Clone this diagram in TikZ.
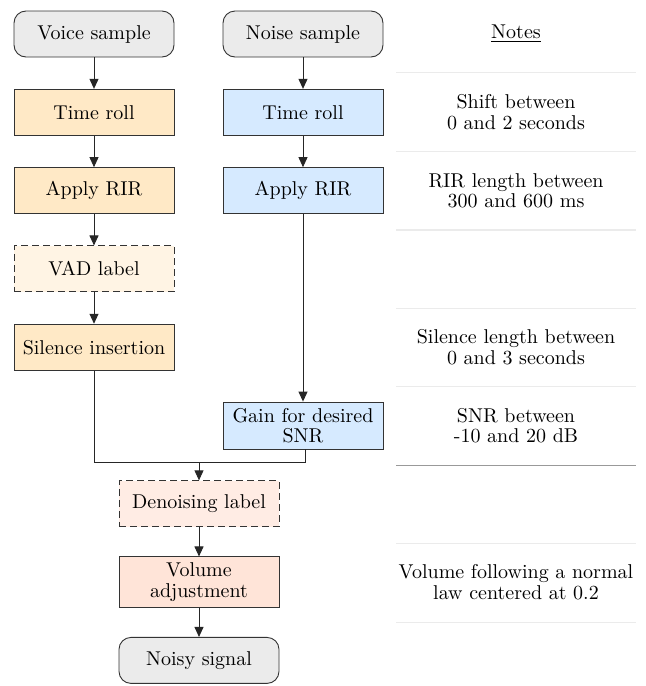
\documentclass[tikz,border=0pt]{standalone}
\usetikzlibrary{arrows.meta}
\definecolor{voicefill}{RGB}{255,233,198}
\definecolor{vadfill}{RGB}{255,244,228}
\definecolor{noisefill}{RGB}{214,234,255}
\definecolor{denfill}{RGB}{255,236,228}
\definecolor{volfill}{RGB}{255,228,216}
\definecolor{termfill}{RGB}{235,235,235}
\tikzset{
  base/.style={draw=black!80, line width=0.45pt, minimum width=80pt, minimum height=23pt,
    inner sep=3pt, align=center, font={\fontsize{10}{10.2}\selectfont}},
  term/.style={base, rounded corners=6pt, fill=termfill},
  vbox/.style={base, fill=voicefill},
  nbox/.style={base, fill=noisefill},
  vadbox/.style={base, fill=vadfill, dashed, dash pattern=on 3.5pt off 2pt},
  denbox/.style={base, fill=denfill, dashed, dash pattern=on 3.5pt off 2pt},
  volbox/.style={base, fill=volfill},
  note/.style={align=center, font={\fontsize{10}{10.2}\selectfont}},
  sep/.style={draw=black!8, line width=0.7pt},
  sepdark/.style={draw=black!40, line width=0.6pt},
  conn/.style={draw=black!85, line width=0.45pt},
  arr/.style={conn, -{Triangle[length=5pt,width=4.5pt]}}
}
\begin{document}
\begin{tikzpicture}[x=0.5pt,y=-0.5pt]
\useasboundingbox (0,0) rectangle (646,686);
% left column
\node[term] (voice) at (94,34) {Voice sample};
\node[vbox] (troll1) at (94,112.3) {Time roll};
\node[vbox] (rir1) at (94,190.6) {Apply RIR};
\node[vadbox] (vad) at (94,268.9) {VAD label};
\node[vbox] (sil) at (94,347.2) {Silence insertion};
% right column
\node[term] (noise) at (303,34) {Noise sample};
\node[nbox] (troll2) at (303,112.3) {Time roll};
\node[nbox] (rir2) at (303,190.6) {Apply RIR};
\node[nbox] (gain) at (303,425.5) {Gain for desired\\SNR};
% merged
\node[denbox] (den) at (199,503.8) {Denoising label};
\node[volbox] (vol) at (199,582.1) {Volume\\adjustment};
\node[term] (noisy) at (199,660.4) {Noisy signal};
% connectors
\draw[arr] (voice) -- (troll1);
\draw[arr] (troll1) -- (rir1);
\draw[arr] (rir1) -- (vad);
\draw[arr] (vad) -- (sil);
\draw[arr] (noise) -- (troll2);
\draw[arr] (troll2) -- (rir2);
\draw[arr] (rir2) -- (gain);
\coordinate (mL) at (94,462);
\coordinate (mR) at (305,462);
\coordinate (mC) at (199,462);
\draw[conn] (sil.south) -- (mL) -- (mR) -- (gain.south -| mR);
\draw[arr] (mC) -- (den);
\draw[arr] (den) -- (vol);
\draw[arr] (vol) -- (noisy);
% notes column
\node[note] (notes) at (516,34) {\underline{Notes}};
\foreach \y in {72.7,151.5,229.8,308.2} {\draw[sep] (396,\y) -- (636,\y);}
\draw[sep] (396,386.6) -- (636,386.6);
\draw[sepdark] (396,465.3) -- (636,465.3);
\draw[sep] (396,543.3) -- (636,543.3);
\draw[sep] (396,622.5) -- (636,622.5);
\node[note] (n1) at (516,112.3) {Shift between\\0 and 2 seconds};
\node[note] (n2) at (516,190.6) {RIR length between\\300 and 600 ms};
\node[note] (n3) at (516,347.2) {Silence length between\\0 and 3 seconds};
\node[note] (n4) at (516,425.5) {SNR between\\-10 and 20 dB};
\node[note] (n5) at (516,582.1) {Volume following a normal\\law centered at 0.2};
\end{tikzpicture}
\end{document}
